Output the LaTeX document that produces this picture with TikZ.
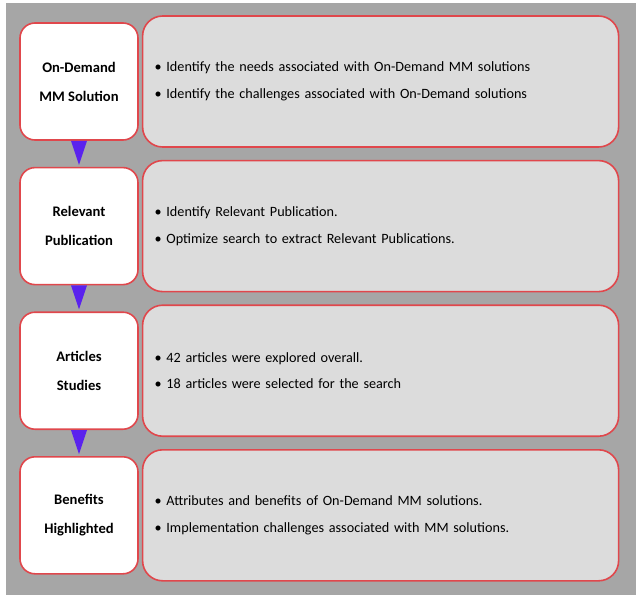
\documentclass[tikz,border=0pt]{standalone}
\usepackage{fontspec}
\setmainfont{Carlito}
\usetikzlibrary{calc,positioning}

\definecolor{bggrey}{HTML}{A6A6A6}
\definecolor{boxred}{HTML}{E0474C}
\definecolor{infogrey}{HTML}{DCDCDC}
\definecolor{arrowblue}{HTML}{5A22EE}

\begin{document}
\begin{tikzpicture}[
    x=1pt, y=-1pt,
    stage/.style={draw=boxred, fill=white, line width=1.6pt, rounded corners=15pt,
        minimum width=118pt, minimum height=117pt, align=center,
        font=\fontsize{14.6}{29}\selectfont\bfseries},
    info/.style={draw=boxred, fill=infogrey, line width=1.6pt, rounded corners=20pt,
        minimum width=476pt, minimum height=131pt, align=left, text width=452pt,
        font=\fontsize{14.2}{26.5}\selectfont},
    pointer/.style={fill=arrowblue},
    node distance=26pt
]

% Canvas
\useasboundingbox (0,0) rectangle (636,595);
\fill[white] (0,0) rectangle (636,595);
\fill[bggrey] (6,3) rectangle (636,595);

% Stage boxes
\node[stage] (stage1) at (79,81.5) {On-Demand\\MM Solution};
\node[stage, below=of stage1] (stage2) {Relevant\\Publication};
\node[stage, below=of stage2] (stage3) {Articles\\Studies};
\node[stage, below=of stage3] (stage4) {Benefits\\Highlighted};

% Info boxes
\node[info, right=3pt of stage1] (info1) {\textbullet\ Identify the needs associated with On-Demand MM solutions\\
    \textbullet\ Identify the challenges associated with On-Demand solutions};
\node[info, right=3pt of stage2] (info2) {\textbullet\ Identify Relevant Publication.\\
    \textbullet\ Optimize search to extract Relevant Publications.};
\node[info, right=3pt of stage3] (info3) {\textbullet\ 42 articles were explored overall.\\
    \textbullet\ 18 articles were selected for the search};
\node[info, right=3pt of stage4] (info4) {\textbullet\ Attributes and benefits of On-Demand MM solutions.\\
    \textbullet\ Implementation challenges associated with MM solutions.};

% Pointers between stages
\foreach \i in {1,2,3}
    \fill[pointer] ($(stage\i.south)+(-8,0)$) -- ($(stage\i.south)+(8,0)$)
        -- ($(stage\the\numexpr\i+1.north)+(0,-2)$) -- cycle;

\end{tikzpicture}
\end{document}
